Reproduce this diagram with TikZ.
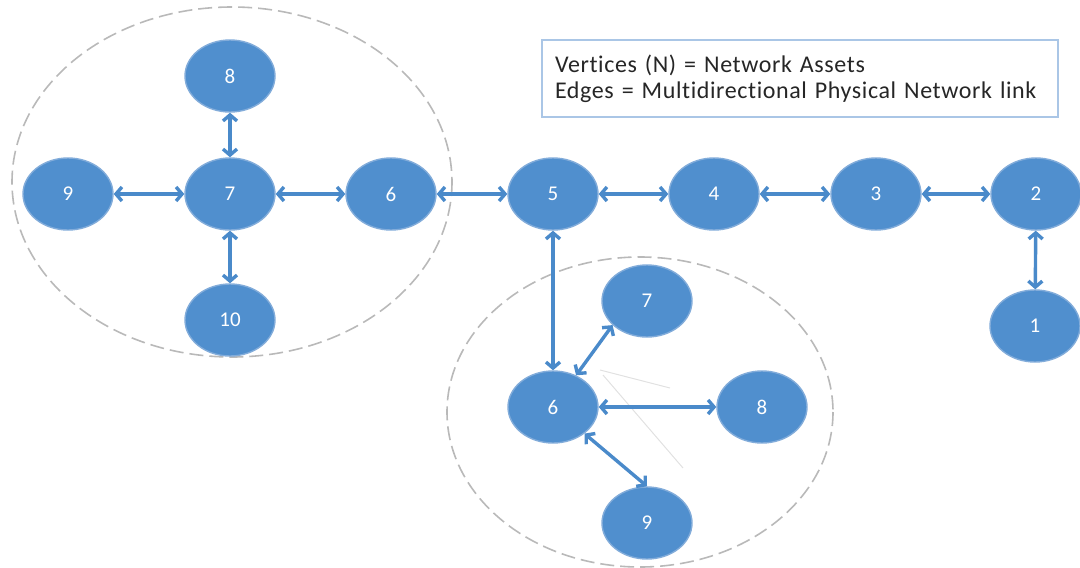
\documentclass[tikz,border=0pt]{standalone}
\usepackage{fontspec}
\setmainfont{Carlito}
\newfontfamily\legendfont[LetterSpace=2.5,Ligatures={NoCommon,NoRare}]{Carlito}
\usetikzlibrary{shapes.geometric,arrows.meta}
\definecolor{nodeblue}{RGB}{80,143,206}
\definecolor{rimblue}{RGB}{130,172,218}
\definecolor{arrowblue}{RGB}{74,138,202}
\definecolor{groupgrey}{RGB}{185,185,185}
\definecolor{boxblue}{RGB}{170,198,230}
\definecolor{faint}{RGB}{225,225,225}
\tikzset{
  asset/.style={ellipse, fill=nodeblue, draw=rimblue, line width=1.4pt,
    minimum width=90pt, minimum height=72pt, inner sep=0pt,
    text=white, font=\fontsize{21}{21}\selectfont},
  link/.style={draw=arrowblue, line width=3.4pt,
    {Straight Barb[length=6pt,width=14pt]}-{Straight Barb[length=6pt,width=14pt]}},
  group/.style={draw=groupgrey, line width=1.6pt, dash pattern=on 14pt off 6pt},
  legend/.style={draw=boxblue, line width=2pt, fill=white, align=left,
    font=\legendfont\fontsize{24}{26}\selectfont, text=black!85,
    minimum width=514pt, minimum height=77pt, inner xsep=13pt, text width=490pt}
}
\begin{document}
\begin{tikzpicture}[x=1pt,y=-1pt]
\useasboundingbox (0,0) rectangle (1080,568);
% groups
\draw[group] (232,182) ellipse [x radius=220, y radius=175];
\draw[group] (640,412) ellipse [x radius=193, y radius=155];
% faint lines
\draw[faint, line width=1pt] (600,370) -- (670,388);
\draw[faint, line width=1pt] (603,375) -- (683,468);
% legend
\node[legend] (legend) at (800,78.5) {Vertices (N) = Network Assets\\Edges = Multidirectional Physical Network link};
% upper row
\node[asset] (a9) at (68,194) {9};
\node[asset] (a7) at (230,194) {7};
\node[asset] (a6) at (391,194) {6};
\node[asset] (a8) at (230,76) {8};
\node[asset] (a10) at (230,320) {10};
\node[asset] (n5) at (553,194) {5};
\node[asset] (n4) at (714,194) {4};
\node[asset] (n3) at (876,194) {3};
\node[asset] (n2) at (1036,194) {2};
\node[asset] (n1) at (1035,326) {1};
% lower group
\node[asset] (b6) at (553,407) {6};
\node[asset] (b7) at (647,301) {7};
\node[asset] (b8) at (762,407) {8};
\node[asset] (b9) at (647,523) {9};
% links
\draw[link] (a9) -- (a7);
\draw[link] (a7) -- (a6);
\draw[link] (a8) -- (a7);
\draw[link] (a7) -- (a10);
\draw[link] (a6) -- (n5);
\draw[link] (n5) -- (n4);
\draw[link] (n4) -- (n3);
\draw[link] (n3) -- (n2);
\draw[link] (n2) -- (n1);
\draw[link] (n5) -- (b6);
\draw[link] (b6) -- (b7.215);
\draw[link] (b6) -- (b8);
\draw[link] (b6) -- (b9.north);
\end{tikzpicture}
\end{document}
